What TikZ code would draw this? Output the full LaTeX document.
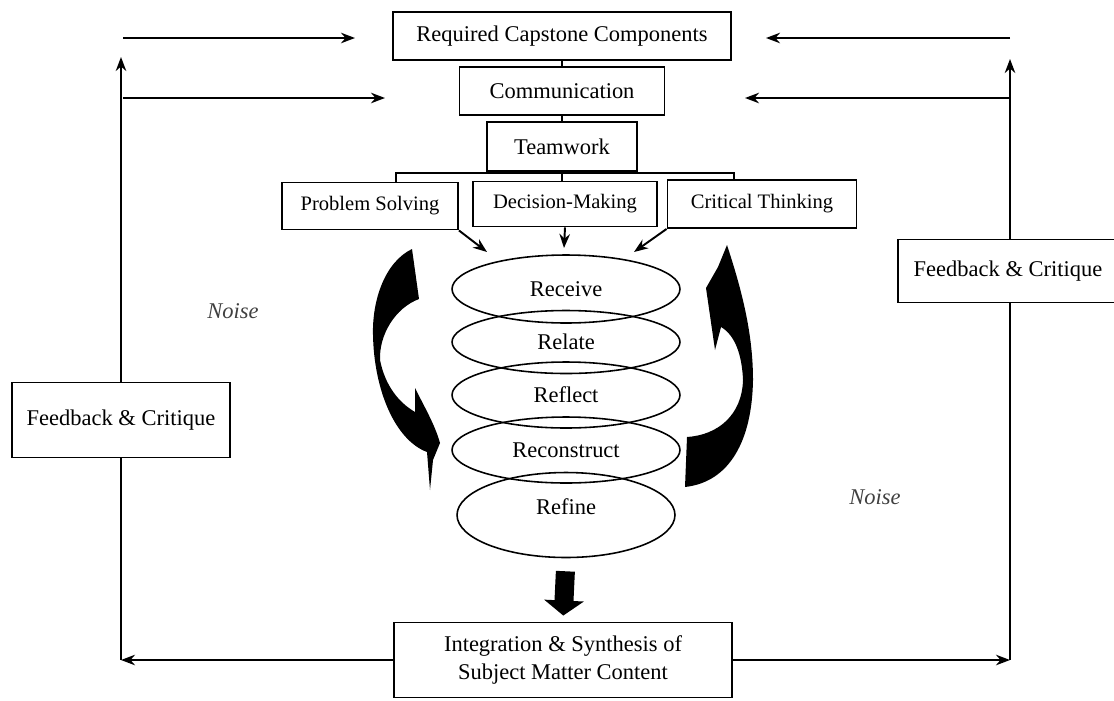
\documentclass[tikz,border=0pt]{standalone}
\usepackage{fontspec}
\setmainfont{Liberation Serif}
\usetikzlibrary{%
  arrows.meta,%
  positioning,% wg. " of "
  shapes%
}

\begin{document}
\begin{tikzpicture}
[x=0.02cm, y=-0.02cm, line width=1.1pt, >={Stealth[length=8pt,width=6pt]},
box/.style={rectangle, draw=black, inner sep=0pt, font=\fontsize{12.8}{15.5}\selectfont},
skill/.style={box, font=\fontsize{11.7}{14}\selectfont},
phase/.style={ellipse, draw=black, line width=0.9pt, inner sep=0pt, minimum width=4.56cm, font=\fontsize{12.8}{15.5}\selectfont},
noise/.style={font=\itshape\fontsize{12.8}{15.5}\selectfont, text=black!75},
swirl/.style={fill=black}]

\useasboundingbox (0,0) rectangle (1114,700);

\node[box, minimum width=6.76cm, minimum height=0.96cm] (req) at (562,36) {Required Capstone Components};
\node[box, minimum width=4.1cm, minimum height=0.96cm, below=0.1cm of req] (comm) {Communication};
\node[box, minimum width=3cm, minimum height=0.98cm, below=0.1cm of comm] (team) {Teamwork};

\node[skill, minimum width=3.52cm, minimum height=0.94cm] (ps) at (370,206) {Problem Solving};
\node[skill, minimum width=3.68cm, minimum height=0.9cm] (dm) at (565,204) {Decision-Making};
\node[skill, minimum width=3.78cm, minimum height=0.96cm] (ct) at (762,204) {Critical Thinking};

\draw (req) -- (comm);
\draw (comm) -- (team);
\coordinate (brL) at (396,173);
\coordinate (brR) at (734,173);
\draw (ps.north -| brL) -- (brL) -- (brR) -- (ct.north -| brR);
\draw (team.south) -- (team.south |- dm.north);

\foreach \name/\y/\h/\txt in {receive/289/1.36/Receive, relate/342/1.26/Relate, reflect/395/1.32/Reflect, recon/450/1.32/Reconstruct}
	\node[phase, minimum height=\h cm] (\name) at (566,\y) {\txt};
\node[phase, minimum width=4.36cm, minimum height=1.7cm, text depth=0.32cm] (refine) at (566,515) {Refine};

\coordinate (inL) at (487,252);
\coordinate (inM) at (564,248);
\coordinate (inR) at (634,252);
\draw[->] (ps.south east) -- (inL);
\draw[->] (dm.south) -- (inM);
\draw[->] (ct.south west) -- (inR);

\fill[swirl] (412,249) .. controls (385,262) and (372,300) .. (373,335) .. controls (374,390) and (395,440) .. (427,452) -- (430,490) -- (433,460) -- (440,443) .. controls (435,425) and (425,408) .. (415,388) -- (415,412) .. controls (398,402) and (385,385) .. (380,360) .. controls (379,335) and (395,308) .. (419,299) -- cycle;
\fill[swirl] (685,487) .. controls (730,482) and (752,440) .. (753,380) .. controls (753,330) and (740,285) .. (727,245) -- (718,267) -- (706,288) -- (715,350) -- (721,327) .. controls (735,335) and (742,355) .. (743,380) .. controls (742,415) and (718,435) .. (687,437) -- cycle;

\node[box, minimum width=6.76cm, minimum height=1.5cm, align=center] (integ) at (563,660) {Integration \& Synthesis of\\Subject Matter Content};
\draw[line width=0.38cm, -{Triangle[length=0.3cm,width=0.78cm]}, shorten <=0.26cm, shorten >=0.12cm] (refine.south) -- (integ.north);

\node[box, minimum width=4.36cm, minimum height=1.5cm] (fbL) at (121,420) {Feedback \& Critique};
\node[box, minimum width=4.4cm, minimum height=1.26cm] (fbR) at (1008,271) {Feedback \& Critique};

\node[noise] (noiseL) at (233,311) {Noise};
\node[noise] (noiseR) at (875,497) {Noise};

\coordinate (upL) at (121,57);
\coordinate (upR) at (1010,59);
\draw (fbL.south) -- (integ.west -| fbL.south);
\draw[->] (integ.west) -- (integ.west -| fbL.south);
\draw[->] (fbL.north) -- (upL);
\draw (upR |- fbR.south) -- (upR |- integ.east);
\draw[->] (integ.east) -- (upR |- integ.east);
\draw[->] (upR |- fbR.north) -- (upR);

\coordinate (topL) at (123,38);
\coordinate (midL) at (123,98);
\coordinate (topR) at (1010,38);
\coordinate (midR) at (1010,98);
\coordinate (inReqL) at (355,38);
\coordinate (inCommL) at (385,98);
\coordinate (inReqR) at (766,38);
\coordinate (inCommR) at (745,98);
\draw[->] (topL) -- (inReqL);
\draw[->] (midL) -- (inCommL);
\draw[->] (topR) -- (inReqR);
\draw[->] (midR) -- (inCommR);
\end{tikzpicture}
\end{document}
